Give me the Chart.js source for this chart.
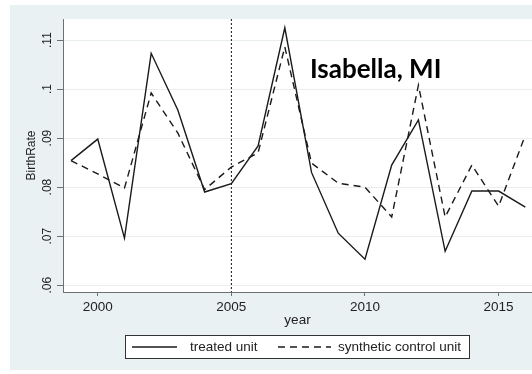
<!DOCTYPE html>
<html>
<head>
<meta charset="utf-8">
<script src="https://cdn.jsdelivr.net/npm/chart.js@4.4.1/dist/chart.umd.min.js"></script>
<style>
  html, body { margin: 0; padding: 0; background: #fff; }
</style>
</head>
<body>
<canvas id="birthChart" width="532" height="374"></canvas>
<script>
const years = [1999, 2000, 2001, 2002, 2003, 2004, 2005, 2006, 2007, 2008, 2009, 2010, 2011, 2012, 2013, 2014, 2015, 2016];
const treated = [0.0854, 0.0898, 0.0696, 0.1073, 0.0957, 0.0790, 0.0807, 0.0884, 0.1125, 0.0830, 0.0706, 0.0653, 0.0845, 0.0937, 0.0669, 0.0792, 0.0792, 0.0759];
const synthetic = [0.0854, 0.0827, 0.0798, 0.0992, 0.0910, 0.0795, 0.0841, 0.0870, 0.1086, 0.0849, 0.0808, 0.0800, 0.0739, 0.1008, 0.0739, 0.0845, 0.0761, 0.0906];
const xTicks = [2000, 2005, 2010, 2015];
const yTicks = [0.06, 0.07, 0.08, 0.09, 0.1, 0.11];
const treatmentYear = 2005;
const unitName = "Isabella, MI";

const fontFamily = "'Liberation Sans', Arial, sans-serif";

// fondo gris azulado y área de trazado blanca
const backgroundPlugin = {
  id: "background",
  beforeDraw(chart) {
    const { ctx, chartArea } = chart;
    ctx.save();
    ctx.fillStyle = "#ffffff";
    ctx.fillRect(0, 0, chart.width, chart.height);
    ctx.fillStyle = "#eaf1f3";
    ctx.fillRect(10, 5, chart.width - 10, 365);
    ctx.fillStyle = "#ffffff";
    ctx.fillRect(chartArea.left, chartArea.top, chartArea.right - chartArea.left, chartArea.bottom - chartArea.top);
    ctx.restore();
  },
};

// línea vertical del tratamiento y nombre del condado
const annotationPlugin = {
  id: "annotation",
  afterDatasetsDraw(chart) {
    const { ctx, chartArea, scales } = chart;
    const x = scales.x.getPixelForValue(treatmentYear);
    ctx.save();
    ctx.strokeStyle = "#111";
    ctx.lineWidth = 1;
    ctx.setLineDash([2, 2]);
    ctx.beginPath();
    ctx.moveTo(x, chartArea.top);
    ctx.lineTo(x, chartArea.bottom);
    ctx.stroke();
    ctx.setLineDash([]);
    ctx.fillStyle = "#000";
    ctx.font = "bold 26px Lato, 'Open Sans', sans-serif";
    ctx.textAlign = "center";
    ctx.textBaseline = "middle";
    ctx.fillText(unitName, scales.x.getPixelForValue(2010.4), scales.y.getPixelForValue(0.1039));
    ctx.restore();
  },
};

// leyenda con recuadro, como en Stata
const legendBoxPlugin = {
  id: "legendBox",
  afterDraw(chart) {
    const { ctx } = chart;
    const ds = chart.data.datasets;
    ctx.save();
    ctx.fillStyle = "#ffffff";
    ctx.fillRect(125, 335, 344, 23);
    ctx.strokeStyle = "#333";
    ctx.lineWidth = 1;
    ctx.strokeRect(125.5, 335.5, 344, 23);
    const items = [
      { x0: 132, x1: 177, tx: 190 },
      { x0: 278, x1: 331, tx: 338 },
    ];
    ctx.font = "13.5px " + fontFamily;
    ctx.textBaseline = "middle";
    ctx.textAlign = "left";
    items.forEach((it, i) => {
      ctx.strokeStyle = ds[i].borderColor;
      ctx.lineWidth = ds[i].borderWidth;
      ctx.setLineDash(ds[i].borderDash || []);
      ctx.beginPath();
      ctx.moveTo(it.x0, 347);
      ctx.lineTo(it.x1, 347);
      ctx.stroke();
      ctx.setLineDash([]);
      ctx.fillStyle = "#222";
      ctx.fillText(ds[i].label, it.tx, 347);
    });
    ctx.restore();
  },
};

const ctx = document.getElementById("birthChart").getContext("2d");

new Chart(ctx, {
  type: "line",
  data: {
    datasets: [
      {
        label: "treated unit",
        data: years.map((y, i) => ({ x: y, y: treated[i] })),
        borderColor: "#1a1a1a",
        borderWidth: 1.4,
        pointRadius: 0,
        tension: 0,
      },
      {
        label: "synthetic control unit",
        data: years.map((y, i) => ({ x: y, y: synthetic[i] })),
        borderColor: "#1a1a1a",
        borderWidth: 1.4,
        borderDash: [7, 5],
        pointRadius: 0,
        tension: 0,
      },
    ],
  },
  options: {
    responsive: false,
    animation: false,
    layout: {
      padding: { top: 19, right: 0, bottom: 46, left: 0 },
    },
    plugins: {
      legend: { display: false },
      tooltip: { enabled: false },
    },
    scales: {
      x: {
        type: "linear",
        min: 1998.7,
        max: 2016.25,
        afterBuildTicks: (scale) => {
          scale.ticks = xTicks.map((v) => ({ value: v }));
        },
        afterFit: (scale) => {
          scale.height = 36;
        },
        grid: {
          drawOnChartArea: false,
          tickLength: 4,
          tickColor: "#707070",
        },
        border: { color: "#707070", width: 1 },
        ticks: {
          padding: 3,
          color: "#222",
          font: { family: fontFamily, size: 13.5 },
          maxRotation: 0,
          callback: (v) => String(v),
        },
        title: {
          display: true,
          text: "year",
          color: "#222",
          font: { family: fontFamily, size: 13.5 },
          padding: { top: 0, bottom: 0 },
        },
      },
      y: {
        min: 0.0586,
        max: 0.1143,
        afterBuildTicks: (scale) => {
          scale.ticks = yTicks.map((v) => ({ value: v }));
        },
        afterFit: (scale) => {
          scale.width = 63;
        },
        grid: {
          color: "#e8eef0",
          lineWidth: 1,
          tickLength: 6,
          tickColor: "#707070",
        },
        border: { color: "#707070", width: 1 },
        ticks: {
          padding: 1,
          color: "#222",
          minRotation: 90,
          maxRotation: 90,
          crossAlign: "center",
          font: { family: fontFamily, size: 12 },
          callback: (v) => String(+v.toFixed(2)).replace(/^0/, ""),
        },
        title: {
          display: true,
          text: "BirthRate",
          color: "#222",
          font: { family: fontFamily, size: 12 },
          padding: { top: 24, bottom: 0 },
        },
      },
    },
  },
  plugins: [backgroundPlugin, annotationPlugin, legendBoxPlugin],
});
</script>
</body>
</html>
